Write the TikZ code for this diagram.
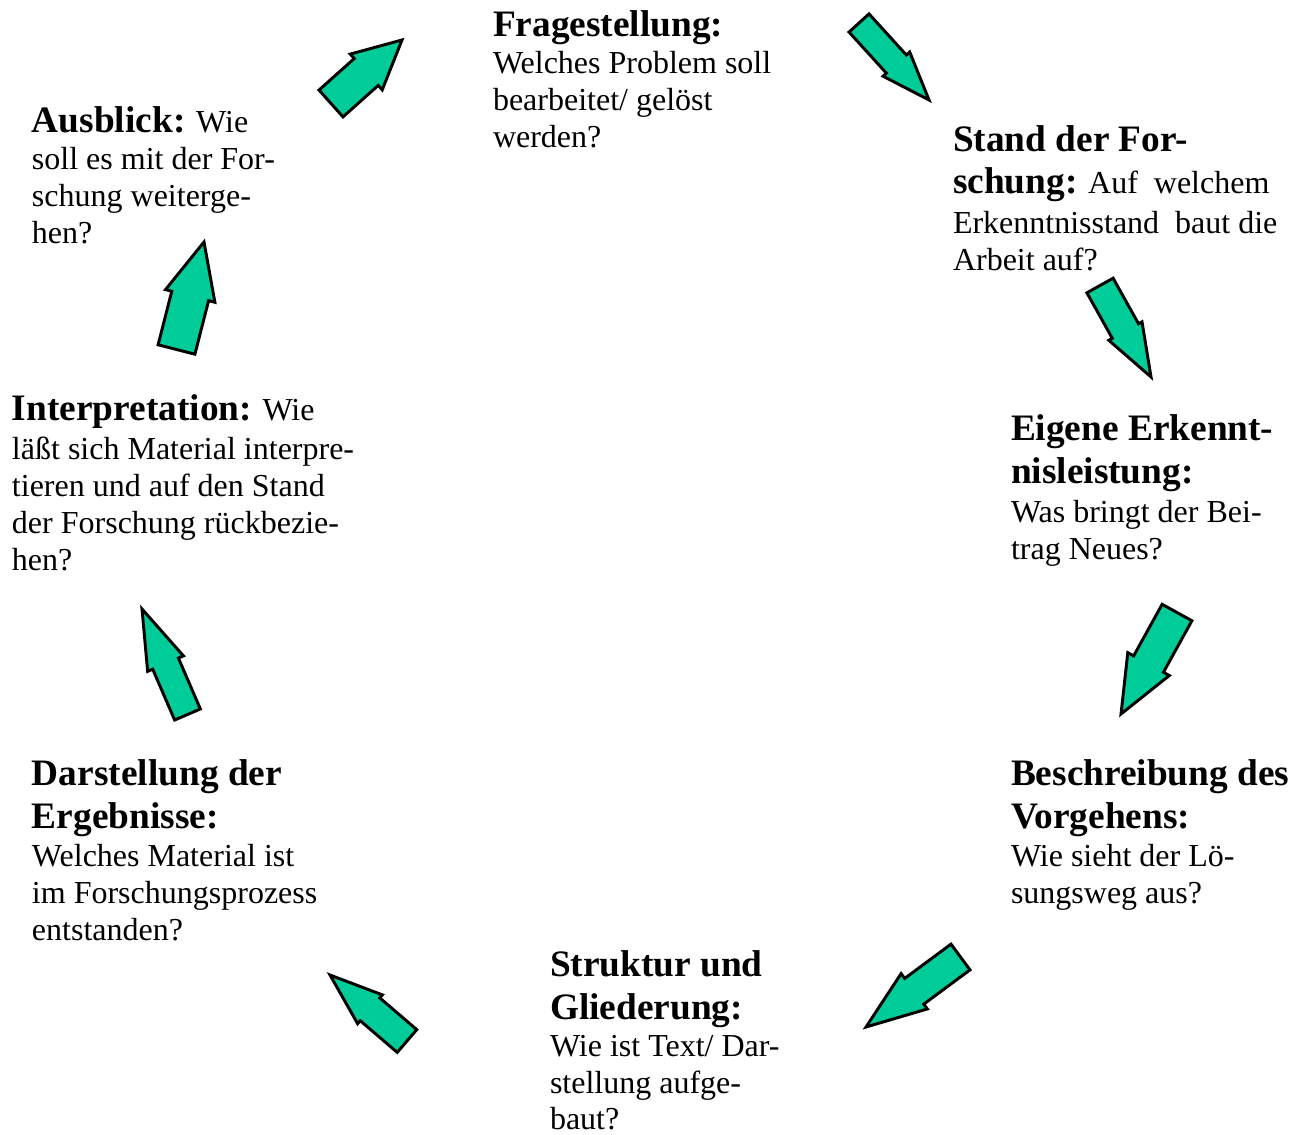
\documentclass[tikz,border=0pt]{standalone}
\usepackage{fontspec}
\setmainfont{Liberation Serif}
\usetikzlibrary{calc}
\definecolor{arrowgreen}{RGB}{0,204,153}
\tikzset{
  blockarrow/.style={fill=arrowgreen, draw=black, line width=1.1pt, line join=miter},
  stage/.style={anchor=base west, inner sep=0pt, outer sep=0pt, font=\fontsize{12}{13.875}\selectfont},
}
\newcommand\hd[1]{{\fontsize{14}{16}\selectfont\bfseries #1}}
\newcommand\greenarrow[6]{%
  \coordinate (#1-t) at (#2);
  \coordinate (#1-p) at (#3);
  \coordinate (#1-h) at ($(#1-p)!#6*0.375pt!(#1-t)$);
  \filldraw[blockarrow]
    ($(#1-t)!#4*0.375pt!90:(#1-p)$) -- ($(#1-h)!#4*0.375pt!90:(#1-p)$) --
    ($(#1-h)!#5*0.375pt!90:(#1-p)$) -- (#1-p) --
    ($(#1-h)!#5*0.375pt!-90:(#1-p)$) -- ($(#1-h)!#4*0.375pt!-90:(#1-p)$) --
    ($(#1-t)!#4*0.375pt!-90:(#1-p)$) -- cycle;
}
\begin{document}
\begin{tikzpicture}[x=0.375pt, y=-0.375pt]
\useasboundingbox (0,0) rectangle (1304,1135);

% stage texts
\node[stage] (frage) at (493,37) {\begin{tabular}[t]{@{}l@{}}
\hd{Fragestellung:}\\[-0.35pt]
Welches Problem soll\\
bearbeitet/ gelöst\\
werden?\end{tabular}};

\node[stage] (stand) at (953,152) {\begin{tabular}[t]{@{}l@{}}
\hd{Stand der For-}\\[1.85pt]
\hd{schung:} Auf\ \ welchem\\[0.85pt]
Erkenntnisstand\ \ baut die\\
Arbeit auf?\end{tabular}};

\node[stage] (eigen) at (1011,441) {\begin{tabular}[t]{@{}l@{}}
\hd{Eigene Erkennt-}\\[2.25pt]
\hd{nisleistung:}\\[0.4pt]
Was bringt der Bei-\\
trag Neues?\end{tabular}};

\node[stage] (beschr) at (1011,785) {\begin{tabular}[t]{@{}l@{}}
\hd{Beschreibung des}\\[2.25pt]
\hd{Vorgehens:}\\[0.6pt]
Wie sieht der Lö-\\
sungsweg aus?\end{tabular}};

\node[stage] (struk) at (550,976) {\begin{tabular}[t]{@{}l@{}}
\hd{Struktur und}\\[2.4pt]
\hd{Gliederung:}\\[0.2pt]
Wie ist Text/ Dar-\\
stellung aufge-\\[-0.4pt]
baut?\end{tabular}};

\node[stage] (darst) at (32,785) {\begin{tabular}[t]{@{}l@{}}
\hd{Darstellung der}\\[2.25pt]
\hd{Ergebnisse:}\\[0.6pt]
Welches Material ist\\
im Forschungsprozess\\
entstanden?\end{tabular}};

\node[stage] (interp) at (12,421) {\begin{tabular}[t]{@{}l@{}}
\hd{Interpretation:} Wie\\[0.4pt]
läßt sich Material interpre-\\
tieren und auf den Stand\\
der Forschung rückbezie-\\
hen?\end{tabular}};

\node[stage] (ausbl) at (32,133) {\begin{tabular}[t]{@{}l@{}}
\hd{Ausblick:} Wie\\[-0.15pt]
soll es mit der For-\\
schung weiterge-\\
hen?\end{tabular}};

% block arrows
\greenarrow{a1}{859,23}{929,100}{13.5}{18}{48.5}
\greenarrow{a2}{1100,285.5}{1151,377}{15}{19}{52.6}
\greenarrow{a3}{1177,612.5}{1121,714}{17}{23.7}{57}
\greenarrow{a4}{960.5,957}{866,1027}{16}{22}{60}
\greenarrow{a5}{407,1041}{330,975}{15}{19}{52.7}
\greenarrow{a6}{187.5,714.5}{142,609}{14}{19.5}{59.5}
\greenarrow{a7}{176.5,349.5}{204,242}{19}{25.5}{55.7}
\greenarrow{a8}{331,103.5}{402,40}{18}{24}{48}
\end{tikzpicture}
\end{document}
